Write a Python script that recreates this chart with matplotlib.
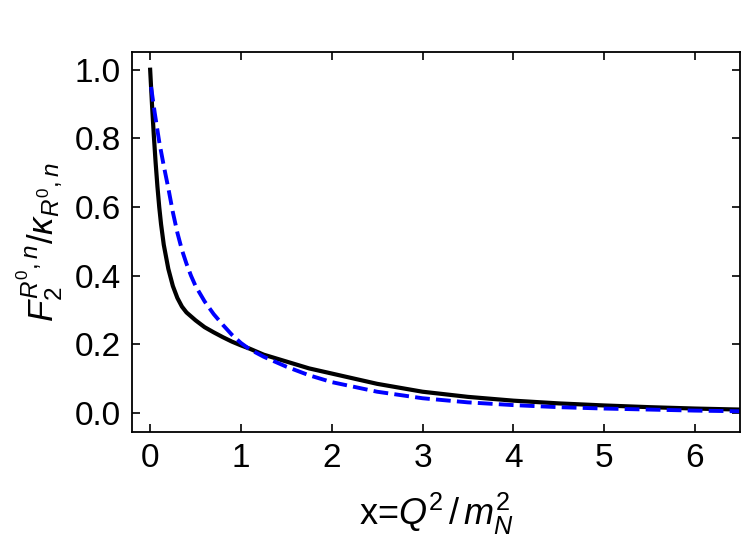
import numpy as np
import matplotlib
matplotlib.use("Agg")
import matplotlib.pyplot as plt

plt.rcParams['font.family'] = ['Liberation Sans', 'DejaVu Sans']
plt.rcParams['mathtext.fontset'] = 'custom'
plt.rcParams['mathtext.rm'] = 'Liberation Sans'
plt.rcParams['mathtext.it'] = 'Liberation Sans:italic'

# curva negra (solida)
x_negro = np.array([0, 0.02, 0.04, 0.06, 0.08, 0.1, 0.12, 0.15, 0.2, 0.25, 0.3, 0.35, 0.4, 0.5,
                    0.6, 0.7, 0.8, 0.9, 1.0, 1.1, 1.25, 1.5, 1.75, 2.0, 2.5, 3.0, 3.5, 4.0, 4.5,
                    5.0, 5.5, 6.0, 6.5])
y_negro = np.array([1.0, 0.90, 0.81, 0.73, 0.66, 0.60, 0.55, 0.49, 0.42, 0.37, 0.335, 0.31, 0.293,
                    0.27, 0.25, 0.235, 0.221, 0.208, 0.197, 0.187, 0.17, 0.15, 0.13, 0.115, 0.085,
                    0.062, 0.047, 0.036, 0.028, 0.022, 0.017, 0.013, 0.010])

# curva azul (punteada)
x_azul = np.array([0.01, 0.05, 0.1, 0.15, 0.2, 0.25, 0.3, 0.35, 0.4, 0.45, 0.5, 0.6, 0.7, 0.8,
                   0.9, 1.0, 1.1, 1.25, 1.5, 1.75, 2.0, 2.5, 3.0, 3.5, 4.0, 4.5, 5.0, 5.5, 6.0,
                   6.5])
y_azul = np.array([0.95, 0.875, 0.79, 0.72, 0.655, 0.585, 0.525, 0.475, 0.435, 0.40, 0.37, 0.325,
                   0.288, 0.257, 0.228, 0.204, 0.185, 0.164, 0.135, 0.11, 0.090, 0.062, 0.043,
                   0.031, 0.023, 0.017, 0.013, 0.010, 0.007, 0.005])

fig = plt.figure(figsize=(7.5, 5.46), dpi=100)
ax = fig.add_axes([0.176, 0.209, 0.811, 0.696])

ax.plot(x_negro, y_negro, color='black', lw=3.0, solid_joinstyle='round')
ax.plot(x_azul, y_azul, color='blue', lw=2.8, ls=(0, (3.8, 1.6)))

ax.set_xlim(-0.2, 6.5)
ax.set_ylim(-0.055, 1.052)
ax.set_xticks(range(0, 7))
ax.set_yticks([0.0, 0.2, 0.4, 0.6, 0.8, 1.0])
ax.set_yticklabels(['0.0', '0.2', '0.4', '0.6', '0.8', '1.0'])
ax.tick_params(direction='in', top=True, right=True, length=6, width=1.2, labelsize=24, pad=8)
for s in ax.spines.values():
    s.set_linewidth(1.3)

ax.set_xlabel(r'x=$Q^2\,/\,m_N^2$', fontsize=26, labelpad=12)
ax.set_ylabel(r'$F_2^{R^0,n}/\kappa_{R^0,n}$', fontsize=25, labelpad=6)

plt.savefig('out.png', dpi=100)
